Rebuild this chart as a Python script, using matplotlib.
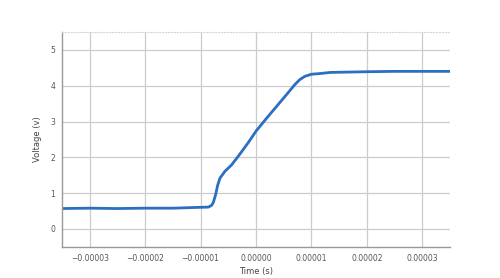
import matplotlib
matplotlib.use("Agg")
import matplotlib.pyplot as plt
from matplotlib.ticker import FixedLocator, FuncFormatter

# Trace key points (time in s, voltage in V)
time_s = [-3.5e-5, -3.0e-5, -2.5e-5, -2.0e-5, -1.5e-5, -1.1e-5, -0.86e-5, -0.80e-5,
          -0.77e-5, -0.73e-5, -0.69e-5, -0.65e-5, -0.56e-5, -0.44e-5, -0.32e-5,
          -0.14e-5, 0.0, 0.19e-5, 0.37e-5, 0.55e-5, 0.70e-5, 0.79e-5, 0.88e-5,
          1.0e-5, 1.16e-5, 1.34e-5, 2.0e-5, 2.5e-5, 3.0e-5, 3.5e-5]
voltage = [0.57, 0.58, 0.57, 0.58, 0.58, 0.60, 0.61, 0.66,
           0.74, 0.95, 1.23, 1.42, 1.61, 1.79, 2.03,
           2.41, 2.73, 3.09, 3.42, 3.75, 4.03, 4.17, 4.26,
           4.32, 4.34, 4.37, 4.39, 4.40, 4.40, 4.40]

xticks = [-3e-5, -2e-5, -1e-5, 0.0, 1e-5, 2e-5, 3e-5]
yticks = [0, 1, 2, 3, 4, 5]

fig = plt.figure(figsize=(5.0, 2.78), dpi=100)
ax = fig.add_axes([0.124, 0.112, 0.776, 0.773])

ax.plot(time_s, voltage, color="#2a6fc0", linewidth=2.0,
        solid_capstyle="round", solid_joinstyle="round")

ax.set_xlim(-3.5e-5, 3.5e-5)
ax.set_ylim(-0.5, 5.5)
ax.xaxis.set_major_locator(FixedLocator(xticks))
ax.yaxis.set_major_locator(FixedLocator(yticks))
ax.xaxis.set_major_formatter(FuncFormatter(lambda v, p: ("\u2212" if v < -1e-12 else "") + f"{abs(v):.5f}"))
ax.grid(True, color="#cccccc", linewidth=0.9)
ax.set_axisbelow(True)

ax.spines["right"].set_visible(False)
ax.spines["top"].set_color("#e0d0d8")
ax.spines["top"].set_linestyle(":")
ax.spines["top"].set_linewidth(0.8)
for s in ["left", "bottom"]:
    ax.spines[s].set_color("#999999")
    ax.spines[s].set_linewidth(1.0)

ax.tick_params(axis="both", length=0, labelsize=5.5, labelcolor="#555555", pad=5)
ax.set_xlabel("Time (s)", fontsize=6, color="#444444", labelpad=3)
ax.set_ylabel("Voltage (v)", fontsize=6, color="#444444", labelpad=6)

fig.savefig("out.png", dpi=100, facecolor="white")
